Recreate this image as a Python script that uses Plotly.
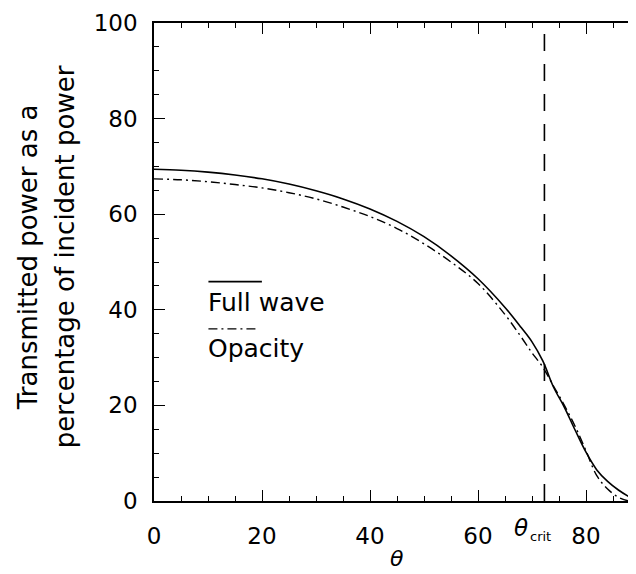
import plotly.graph_objects as go

theta = [0, 5, 10, 15, 20, 25, 30, 35, 40, 45, 50, 55, 60, 65, 68, 70, 72, 74, 76, 78, 80, 82, 84, 86, 88, 90]
full_wave = [69.4, 69.2, 68.8, 68.2, 67.4, 66.3, 64.9, 63.2, 61.1, 58.5, 55.3, 51.3, 46.5, 40.5, 36.3, 33.3, 29.3,
             23.8, 19.6, 14.8, 10.2, 6.5, 4.1, 2.3, 0.9, 0.0]
opacity = [67.4, 67.2, 66.8, 66.2, 65.5, 64.5, 63.2, 61.5, 59.5, 57.0, 53.8, 50.0, 45.5, 39.0, 34.3, 31.0, 28.0,
           24.0, 20.0, 15.6, 10.5, 5.3, 2.5, 0.8, 0.0, 0.0]
theta_crit = 72.3
x_ticks = [0, 20, 40, 60, 80]
y_ticks = [0, 20, 40, 60, 80, 100]
series_names = ["Full wave", "Opacity"]
y_title_lines = ["Transmitted power as a", "percentage of incident power"]

FONT = "DejaVu Sans"
DASHDOT = "9px,4px,2px,4px"
fig = go.Figure()
fig.add_trace(go.Scatter(x=theta, y=full_wave, mode="lines", name=series_names[0],
                         line=dict(color="black", width=1.6), line_shape="spline"))
fig.add_trace(go.Scatter(x=theta, y=opacity, mode="lines", name=series_names[1],
                         line=dict(color="black", width=1.4, dash=DASHDOT), line_shape="spline"))
fig.add_trace(go.Scatter(x=[theta_crit, theta_crit], y=[0, 100], mode="lines", showlegend=False,
                         line=dict(color="black", width=1.6, dash="17px,13px")))

axis_common = dict(showgrid=False, zeroline=False, showline=True, linecolor="black", linewidth=1.6,
                   mirror="ticks", ticks="inside", ticklen=11, tickwidth=1.4, tickcolor="black",
                   minor=dict(dtick=5, ticks="inside", ticklen=5, tickwidth=1.2, tickcolor="black"),
                   tickfont=dict(family=FONT, size=23, color="black"), ticklabeloverflow="allow")
fig.update_xaxes(range=[0, 90], tickvals=x_ticks, ticklabelstandoff=14, **axis_common)
fig.update_yaxes(range=[0, 100], tickvals=y_ticks, ticklabelstandoff=10, **axis_common)

# x-axis title
fig.add_annotation(xref="paper", yref="paper", x=0.5, y=0, yshift=-57, showarrow=False,
                   text="<i>θ</i>", font=dict(family=FONT, size=22, color="black"),
                   xanchor="center", yanchor="middle", borderpad=0)
# y-axis title (two lines)
fig.add_annotation(xref="paper", yref="paper", x=0, y=0.51, xshift=-126, showarrow=False, textangle=-90,
                   text=y_title_lines[0], font=dict(family=FONT, size=26, color="black"),
                   xanchor="center", yanchor="middle")
fig.add_annotation(xref="paper", yref="paper", x=0, y=0.51, xshift=-89, showarrow=False, textangle=-90,
                   text=y_title_lines[1], font=dict(family=FONT, size=26, color="black"),
                   xanchor="center", yanchor="middle")

# theta_crit label
fig.add_annotation(x=theta_crit, y=0, xref="x", yref="paper", xshift=-23, yshift=-27, showarrow=False,
                   text="<i>θ</i>", font=dict(family=FONT, size=23, color="black"),
                   yanchor="middle", xanchor="center")
fig.add_annotation(x=theta_crit, y=0, xref="x", yref="paper", xshift=-4, yshift=-35, showarrow=False,
                   text="crit", font=dict(family=FONT, size=13, color="black"),
                   yanchor="middle", xanchor="center")

# legend drawn manually
fig.add_shape(type="line", xref="paper", yref="paper", x0=0.112, x1=0.222, y0=0.459, y1=0.459,
              line=dict(color="black", width=1.6))
fig.add_annotation(xref="paper", yref="paper", x=0.106, y=0.416, text=series_names[0], showarrow=False,
                   xanchor="left", yanchor="middle", font=dict(family=FONT, size=25, color="black"))
fig.add_shape(type="line", xref="paper", yref="paper", x0=0.112, x1=0.212, y0=0.36, y1=0.36,
              line=dict(color="black", width=1.4, dash=DASHDOT))
fig.add_annotation(xref="paper", yref="paper", x=0.106, y=0.318, text=series_names[1], showarrow=False,
                   xanchor="left", yanchor="middle", font=dict(family=FONT, size=25, color="black"))

fig.update_layout(width=636, height=574, margin=dict(l=146, r=2, t=12, b=81),
                  plot_bgcolor="white", paper_bgcolor="white", showlegend=False)
fig.write_html("out.html")
